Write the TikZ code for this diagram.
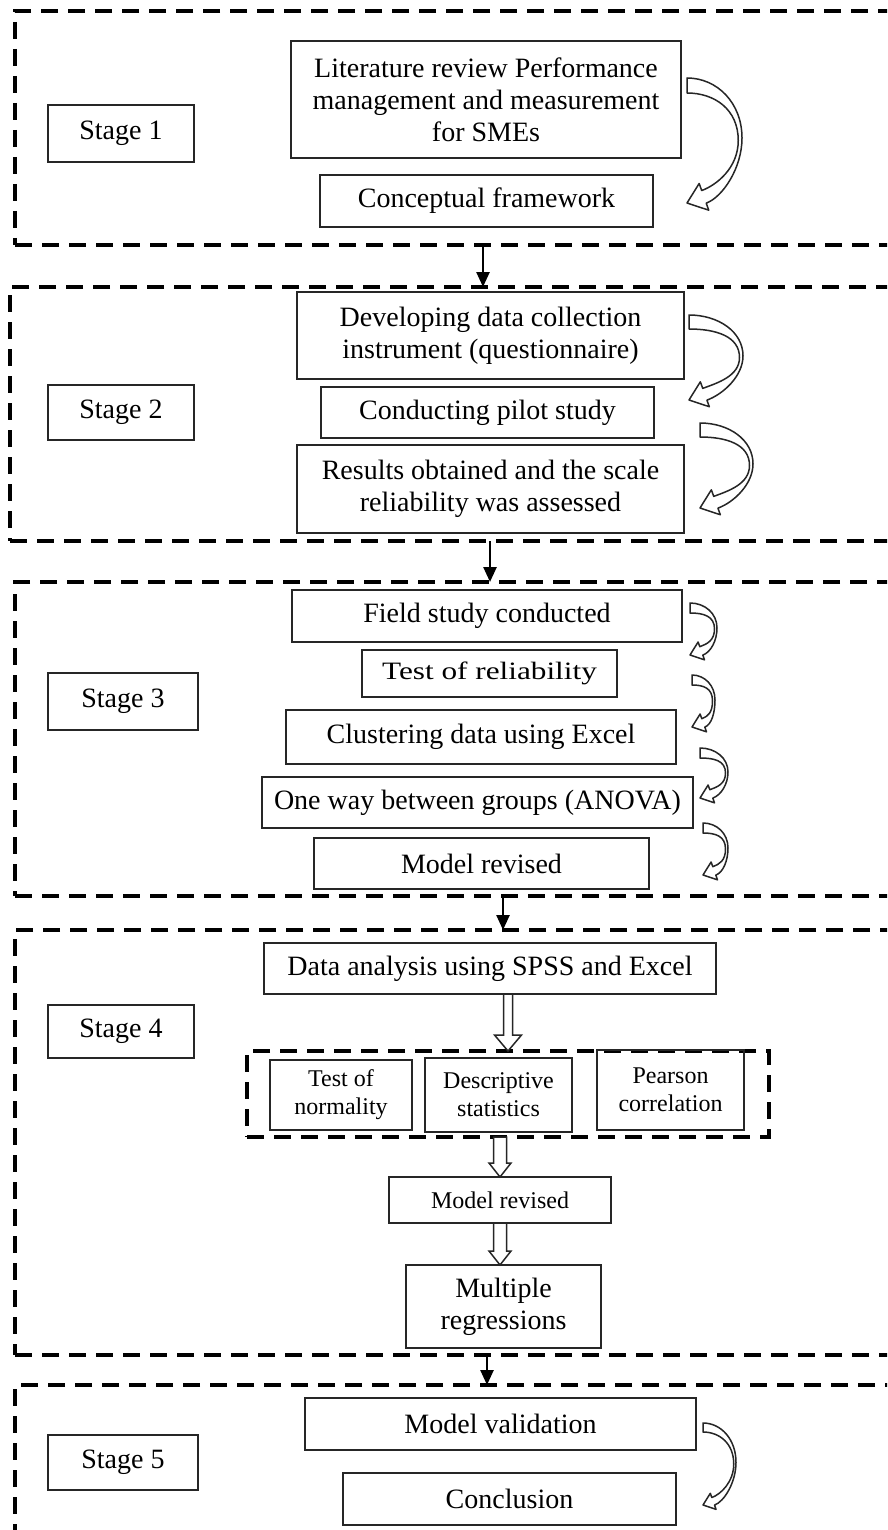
\documentclass[tikz,border=0pt]{standalone}
\usepackage{fontspec}
\setmainfont{Liberation Serif}
\usetikzlibrary{arrows.meta,calc}

\tikzset{
  big/.style={font=\fontsize{28}{32}\selectfont},
  small/.style={font=\fontsize{24}{28}\selectfont},
  box/.style={draw=black!85, line width=1.8pt, align=center, inner sep=0pt, outer sep=0pt},
  stageframe/.style={draw=black, line width=3.5pt, dash pattern=on 17pt off 10pt,
                     inner sep=0pt, outer sep=0pt},
  groupframe/.style={draw=black, line width=3.2pt, dash pattern=on 17pt off 10pt,
                     inner sep=0pt, outer sep=0pt},
  conn/.style={line width=2.5pt, -{Triangle[length=15pt,width=13pt]}},
  bendarrow/.style={draw=black!85, line width=1.5pt, fill=white, line join=round},
  blockarrow/.style={draw=black!85, line width=1.5pt, fill=white, line join=miter},
}

% curved hollow arrow: top-left corner of the tail (#1,#2), bulge #3, height to tip #4, band width #5
\newcommand{\bendarrowat}[5]{%
  \begin{scope}[shift={(#1,#2)}]
    \pgfmathsetmacro{\arrB}{#3}\pgfmathsetmacro{\arrH}{#4}\pgfmathsetmacro{\arrW}{#5}
    \path[bendarrow] (0,0)
      .. controls ({0.55*\arrB},0) and (\arrB,{0.2*\arrH}) .. (\arrB,{0.48*\arrH})
      .. controls (\arrB,{0.72*\arrH}) and ({1.28*\arrW+0.3*\arrB},{\arrH+0.01*\arrW-0.11*\arrB})
      .. ({1.28*\arrW},{\arrH+0.01*\arrW})
      -- ({1.45*\arrW},{\arrH+0.48*\arrW})
      -- (0,\arrH)
      -- ({0.81*\arrW},{\arrH-1.3*\arrW})
      -- ({0.98*\arrW},{\arrH-0.83*\arrW})
      .. controls ({0.98*\arrW+0.27*\arrB},{\arrH-0.83*\arrW-0.1*\arrB}) and ({\arrB-0.25*\arrW},{0.72*\arrH})
      .. ({\arrB-0.25*\arrW},{0.5*\arrH})
      .. controls ({\arrB-0.25*\arrW},{0.25*\arrH}) and ({0.5*\arrB},\arrW) .. (0,\arrW)
      -- cycle;
  \end{scope}}

% hollow straight arrow pointing down: from #1 to #2, shaft half width #3, head half width #4, head length #5
\newcommand{\hollowdown}[5]{%
  \path[blockarrow] let \p1=(#1), \p2=(#2) in
    (\x1-#3,\y1) -- (\x1-#3,\y2+#5) -- (\x1-#4,\y2+#5) -- (\x1,\y2)
    -- (\x1+#4,\y2+#5) -- (\x1+#3,\y2+#5) -- (\x1+#3,\y1) -- cycle;}

\begin{document}
\begin{tikzpicture}[x=1pt,y=-1pt]
  \path[use as bounding box] (0,0) rectangle (887,1530);
  \clip (0,0) rectangle (887,1530);
  \fill[white] (0,0) rectangle (887,1530);

  % ---------- stage frames ----------
  \node[stageframe, minimum width=890pt, minimum height=234pt] (frame1) at (460,128) {};
  \node[stageframe, minimum width=895pt, minimum height=254pt] (frame2) at (457.5,414) {};
  \node[stageframe, minimum width=890pt, minimum height=314pt] (frame3) at (460,739) {};
  \node[stageframe, minimum width=890pt, minimum height=425pt] (frame4) at (460,1142.5) {};
  \node[stageframe, minimum width=890pt, minimum height=160pt] (frame5) at (460,1465) {};

  % ---------- stage 1 ----------
  \node[box, big, minimum width=146pt, minimum height=57pt] (st1) at (121,133.5) {Stage 1};
  \node[box, big, minimum width=390pt, minimum height=117pt] (lit) at (486,99.5)
    {Literature review Performance\\management and measurement\\for SMEs};
  \node[box, big, minimum width=333pt, minimum height=52pt] (concept) at (486.5,201) {Conceptual framework};
  \bendarrowat{687}{78}{55}{125}{15}

  % ---------- stage 2 ----------
  \node[box, big, minimum width=146pt, minimum height=55pt] (st2) at (121,412.5) {Stage 2};
  \node[box, big, minimum width=387pt, minimum height=87pt] (instr) at (490.5,335.5)
    {Developing data collection\\instrument (questionnaire)};
  \node[box, big, minimum width=333pt, minimum height=51pt] (pilot) at (487.5,412.5) {Conducting pilot study};
  \node[box, big, minimum width=387pt, minimum height=88pt] (results) at (490.5,489)
    {Results obtained and the scale\\reliability was assessed};
  \bendarrowat{689}{315}{54}{85}{14}
  \bendarrowat{700}{423}{53}{85}{14}

  % ---------- stage 3 ----------
  \node[box, big, minimum width=150pt, minimum height=57pt] (st3) at (123,701.5) {Stage 3};
  \node[box, big, minimum width=390pt, minimum height=52pt] (field) at (487,616) {Field study conducted};
  \node[box, small, minimum width=255pt, minimum height=47pt] (reliab) at (489.5,673.5)
    {\scalebox{1.25}[1]{\fontsize{25}{28}\selectfont Test of reliability}};
  \node[box, big, minimum width=390pt, minimum height=54pt] (cluster) at (481,737) {Clustering data using Excel};
  \node[box, big, minimum width=431pt, minimum height=51pt] (anova) at (477.5,802.5) {One way between groups (ANOVA)};
  \node[box, big, minimum width=335pt, minimum height=51pt] (revA) at (481.5,863.5) {Model revised};
  \bendarrowat{690}{603}{27}{52}{10}
  \bendarrowat{692}{675}{23}{52}{10}
  \bendarrowat{700}{748}{28}{50}{10}
  \bendarrowat{703}{823}{25}{52}{10}

  % ---------- stage 4 ----------
  \node[box, big, minimum width=146pt, minimum height=53pt] (st4) at (121,1031.5) {Stage 4};
  \node[box, big, minimum width=452pt, minimum height=51pt] (spss) at (490,968.5) {Data analysis using SPSS and Excel};
  \node[groupframe, minimum width=522pt, minimum height=86pt] (tests) at (508,1094) {};
  \node[box, small, minimum width=142pt, minimum height=70pt] (normal) at (341,1095) {Test of\\normality};
  \node[box, small, minimum width=147pt, minimum height=74pt] (descr) at (498.5,1095) {Descriptive\\statistics};
  \node[box, small, minimum width=147pt, minimum height=80pt] (pearson) at (670.5,1090) {Pearson\\correlation};
  \node[box, small, minimum width=222pt, minimum height=46pt] (revB) at (500,1200) {Model revised};
  \node[box, big, minimum width=195pt, minimum height=83pt] (multi) at (503.5,1306.5) {Multiple\\regressions};
  \hollowdown{tests.north |- spss.south}{tests.north}{4.5pt}{13.5pt}{16pt}
  \hollowdown{revB.north |- tests.south}{revB.north}{6.5pt}{11pt}{14pt}
  \hollowdown{revB.south}{revB.south |- multi.north}{6.5pt}{11pt}{14pt}

  % ---------- stage 5 ----------
  \node[box, big, minimum width=150pt, minimum height=55pt] (st5) at (123,1462.5) {Stage 5};
  \node[box, big, minimum width=391pt, minimum height=52pt] (valid) at (500.5,1424) {Model validation};
  \node[box, big, minimum width=333pt, minimum height=52pt] (concl) at (509.5,1499) {Conclusion};
  \bendarrowat{703}{1423}{33}{82}{9}

  % ---------- links between stages ----------
  \coordinate (x12) at (483,0);
  \coordinate (x23) at (490,0);
  \coordinate (x34) at (503,0);
  \coordinate (x45) at (487,0);
  \draw[conn] (frame1.south -| x12) -- (frame2.north -| x12);
  \draw[conn] (frame2.south -| x23) -- (frame3.north -| x23);
  \draw[conn] (frame3.south -| x34) -- (frame4.north -| x34);
  \draw[conn] (frame4.south -| x45) -- (frame5.north -| x45);
\end{tikzpicture}
\end{document}
